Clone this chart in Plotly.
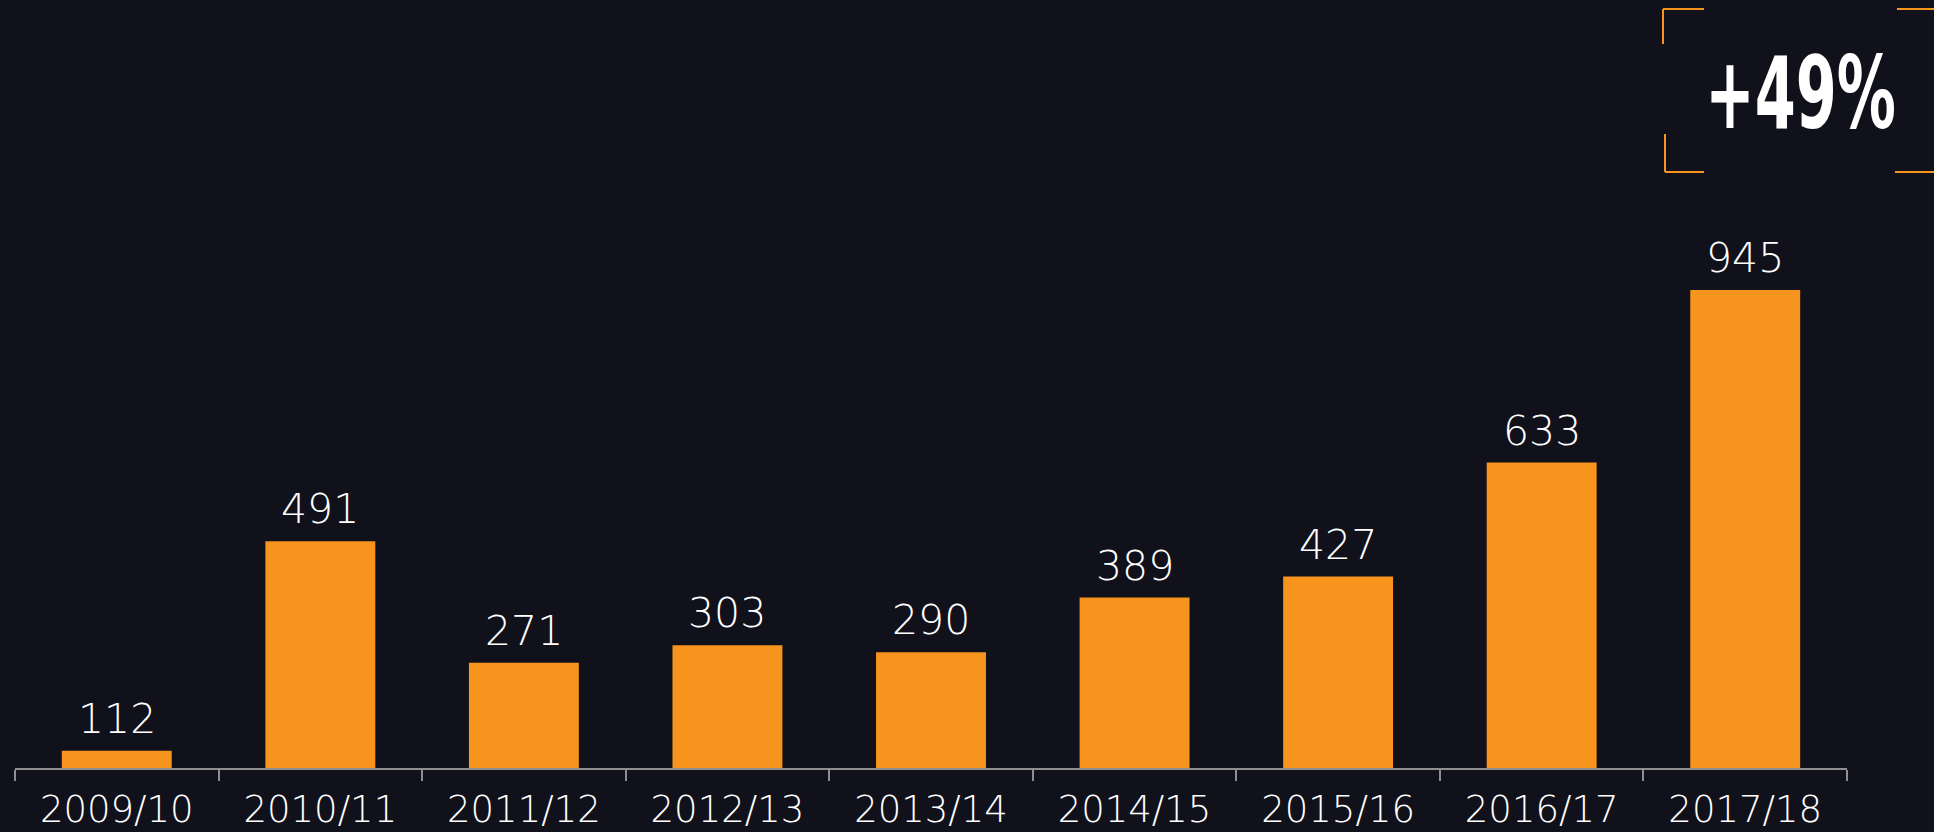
import plotly.graph_objects as go

categories = ["2009/10", "2010/11", "2011/12", "2012/13", "2013/14",
              "2014/15", "2015/16", "2016/17", "2017/18"]
values = [112, 491, 271, 303, 290, 389, 427, 633, 945]
badge_text = "+49%"

W, H = 1934, 832
ML, MR, MT, MB = 15, 87, 0, 64
BG = "#10111a"
ORANGE = "#f7941d"
FONT = "DejaVu Sans, sans-serif"

fig = go.Figure()
fig.add_trace(go.Bar(
    x=categories, y=values,
    marker=dict(color=ORANGE, line=dict(width=0)),
    hoverinfo="skip",
))
for c, v in zip(categories, values):
    fig.add_annotation(
        x=c, y=v, text=str(v), showarrow=False, yanchor="bottom", yshift=6,
        font=dict(family=FONT, size=41, color="#ffffff", weight=300),
    )

pw = W - ML - MR
ph = H - MT - MB


def px(x):
    return (x - ML) / pw


def py(y):
    return (H - MB - y) / ph


lc = dict(color=ORANGE, width=2)
segs = [
    (1663, 9, 1704, 9), (1663, 9, 1663, 44),
    (1665, 134, 1665, 172), (1665, 172, 1704, 172),
    (1897, 9, 1940, 9), (1895, 172, 1940, 172),
]
for x0, y0, x1, y1 in segs:
    fig.add_shape(type="line", xref="paper", yref="paper",
                  x0=px(x0), y0=py(y0), x1=px(x1), y1=py(y1), line=lc)

fig.add_annotation(
    xref="paper", yref="paper", x=px(1800), y=py(93), text=badge_text,
    showarrow=False, xanchor="center", yanchor="middle",
    font=dict(family="DejaVu Sans, sans-serif", size=100, color="#ffffff", weight="bold"),
)

post = """
document.body.style.margin='0';
document.body.style.background='#10111a';
document.querySelectorAll('.annotation-text').forEach(function(t){
  if (t.textContent.indexOf('%') >= 0) {
    var bb = t.getBBox();
    var cx = bb.x + bb.width / 2;
    t.setAttribute('transform', 'translate(' + cx + ',0) scale(0.59,1) translate(' + (-cx) + ',0)');
  }
});
"""

fig.update_layout(
    width=W, height=H,
    margin=dict(l=ML, r=MR, t=MT, b=MB, pad=0),
    paper_bgcolor=BG, plot_bgcolor=BG,
    bargap=0.46, showlegend=False,
    xaxis=dict(
        showline=True, linecolor="#8f8f8f", linewidth=2,
        ticks="outside", tickson="boundaries", ticklen=11, tickcolor="#8f8f8f", tickwidth=2,
        ticklabelstandoff=8, automargin=False,
        showgrid=False, zeroline=False,
        tickfont=dict(family=FONT, size=37, color="#ffffff", weight=300),
    ),
    yaxis=dict(range=[81, 1469], visible=False, showgrid=False, zeroline=False,
               automargin=False),
)

fig.write_html("out.html", post_script=post, config={"displayModeBar": False})
